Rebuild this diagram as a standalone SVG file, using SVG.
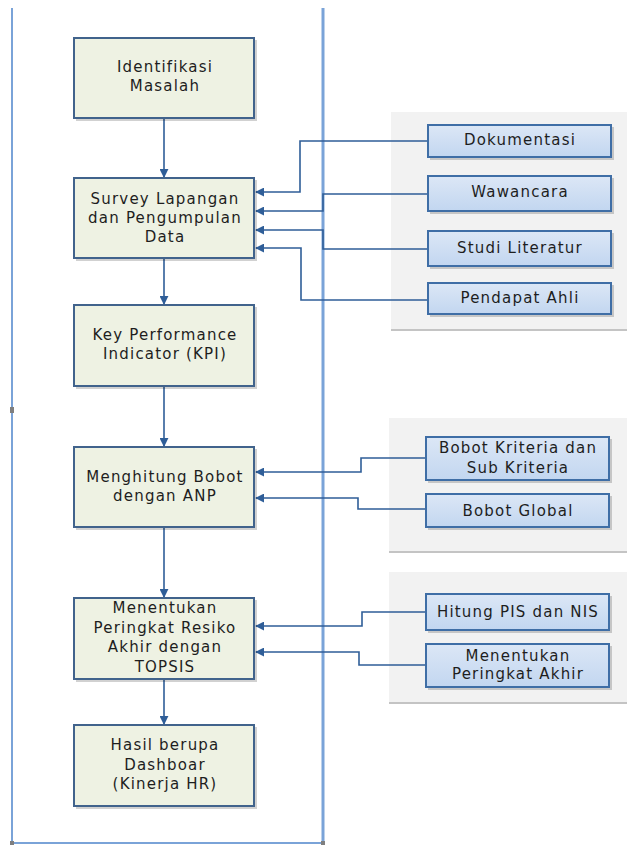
<svg xmlns="http://www.w3.org/2000/svg" width="627" height="846" viewBox="0 0 627 846">
<style>
.t{font-family:"DejaVu Sans","Liberation Sans",sans-serif;font-size:15px;fill:#1e1e1e;text-anchor:middle;letter-spacing:1.2px}
.lb{fill:#eef2e3;stroke:#41638c;stroke-width:2}
.rb{fill:url(#bg);stroke:#3f6ea6;stroke-width:2}
.sh{fill:#000;opacity:0.18}
.c{fill:none;stroke:#2f5e98;stroke-width:1.6}
.pn{fill:#f2f2f2}
.pl{stroke:#c4c4c4;stroke-width:2}
.fr{stroke:#7aa3d8;fill:none}
</style>
<defs>
<linearGradient id="bg" x1="0" y1="0" x2="0" y2="1">
<stop offset="0" stop-color="#dce7f6"/>
<stop offset="1" stop-color="#c2d6f0"/>
</linearGradient>
<marker id="ah" viewBox="0 0 10 10" refX="9" refY="5" markerWidth="9" markerHeight="9" markerUnits="userSpaceOnUse" orient="auto">
<path d="M0,0 L10,5 L0,10 z" fill="#2f5e98"/>
</marker>
</defs>
<rect width="627" height="846" fill="#ffffff"/>
<g id="panels">
<rect class="pn" x="391" y="112" width="236" height="218"/>
<line class="pl" x1="391" y1="330" x2="627" y2="330"/>
<rect class="pn" x="389" y="418" width="238" height="134"/>
<line class="pl" x1="389" y1="552" x2="627" y2="552"/>
<rect class="pn" x="389" y="572" width="238" height="131"/>
<line class="pl" x1="389" y1="703" x2="627" y2="703"/>
</g>
<g id="frame">
<line class="fr" x1="12" y1="8" x2="12" y2="843" stroke-width="2"/>
<line class="fr" x1="323" y1="8" x2="323" y2="843" stroke-width="3"/>
<line class="fr" x1="12" y1="843" x2="323" y2="843" stroke-width="2"/>
<rect x="10" y="407" width="4" height="6" fill="#7f7f7f"/>
<rect x="10" y="841" width="4" height="4" fill="#7f7f7f"/>
<rect x="321" y="841" width="4" height="4" fill="#7f7f7f"/>
</g>
<g id="connectors">
<line class="c" x1="164" y1="118" x2="164" y2="177" marker-end="url(#ah)"/>
<line class="c" x1="164" y1="258" x2="164" y2="304" marker-end="url(#ah)"/>
<line class="c" x1="164" y1="386" x2="164" y2="446" marker-end="url(#ah)"/>
<line class="c" x1="164" y1="527" x2="164" y2="597" marker-end="url(#ah)"/>
<line class="c" x1="164" y1="679" x2="164" y2="724" marker-end="url(#ah)"/>
<polyline class="c" points="428,141 300,141 300,192 256,192" marker-end="url(#ah)"/>
<polyline class="c" points="428,194 323,194 323,211 256,211" marker-end="url(#ah)"/>
<polyline class="c" points="428,249 323,249 323,230 256,230" marker-end="url(#ah)"/>
<polyline class="c" points="428,300 301,300 301,248 256,248" marker-end="url(#ah)"/>
<polyline class="c" points="426,458 361,458 361,472 256,472" marker-end="url(#ah)"/>
<polyline class="c" points="426,509 358,509 358,498 256,498" marker-end="url(#ah)"/>
<polyline class="c" points="426,612 362,612 362,626 256,626" marker-end="url(#ah)"/>
<polyline class="c" points="426,665 359,665 359,652 256,652" marker-end="url(#ah)"/>
</g>
<g id="n1">
<rect class="sh" x="76" y="40" width="181" height="81"/>
<rect class="lb" x="74" y="38" width="180" height="80"/>
<text class="t" x="165" y="72">Identifikasi</text>
<text class="t" x="165" y="91">Masalah</text>
</g>
<g id="n2">
<rect class="sh" x="76" y="180" width="181" height="81"/>
<rect class="lb" x="74" y="178" width="180" height="80"/>
<text class="t" x="165" y="204">Survey Lapangan</text>
<text class="t" x="165" y="223">dan Pengumpulan</text>
<text class="t" x="165" y="242">Data</text>
</g>
<g id="n3">
<rect class="sh" x="76" y="307" width="181" height="82"/>
<rect class="lb" x="74" y="305" width="180" height="81"/>
<text class="t" x="165" y="340">Key Performance</text>
<text class="t" x="165" y="359">Indicator (KPI)</text>
</g>
<g id="n4">
<rect class="sh" x="76" y="449" width="181" height="81"/>
<rect class="lb" x="74" y="447" width="180" height="80"/>
<text class="t" x="165" y="482">Menghitung Bobot</text>
<text class="t" x="165" y="501">dengan ANP</text>
</g>
<g id="n5">
<rect class="sh" x="76" y="600" width="181" height="82"/>
<rect class="lb" x="74" y="598" width="180" height="81"/>
<text class="t" x="165" y="613">Menentukan</text>
<text class="t" x="165" y="633">Peringkat Resiko</text>
<text class="t" x="165" y="652">Akhir dengan</text>
<text class="t" x="165" y="672">TOPSIS</text>
</g>
<g id="n6">
<rect class="sh" x="76" y="727" width="181" height="82"/>
<rect class="lb" x="74" y="725" width="180" height="81"/>
<text class="t" x="165" y="750">Hasil berupa</text>
<text class="t" x="165" y="770">Dashboar</text>
<text class="t" x="165" y="789">(Kinerja HR)</text>
</g>
<g id="r1">
<rect class="sh" x="430" y="127" width="184" height="33"/>
<rect class="rb" x="428" y="125" width="183" height="32"/>
<text class="t" x="520" y="145">Dokumentasi</text>
</g>
<g id="r2">
<rect class="sh" x="430" y="178" width="184" height="36"/>
<rect class="rb" x="428" y="176" width="183" height="35"/>
<text class="t" x="520" y="197">Wawancara</text>
</g>
<g id="r3">
<rect class="sh" x="430" y="233" width="184" height="36"/>
<rect class="rb" x="428" y="231" width="183" height="35"/>
<text class="t" x="520" y="253">Studi Literatur</text>
</g>
<g id="r4">
<rect class="sh" x="430" y="285" width="184" height="32"/>
<rect class="rb" x="428" y="283" width="183" height="31"/>
<text class="t" x="520" y="303">Pendapat Ahli</text>
</g>
<g id="r5">
<rect class="sh" x="428" y="439" width="184" height="44"/>
<rect class="rb" x="426" y="437" width="183" height="43"/>
<text class="t" x="518" y="453">Bobot Kriteria dan</text>
<text class="t" x="518" y="473">Sub Kriteria</text>
</g>
<g id="r6">
<rect class="sh" x="428" y="496" width="184" height="34"/>
<rect class="rb" x="426" y="494" width="183" height="33"/>
<text class="t" x="518" y="516">Bobot Global</text>
</g>
<g id="r7">
<rect class="sh" x="428" y="596" width="184" height="37"/>
<rect class="rb" x="426" y="594" width="183" height="36"/>
<text class="t" x="518" y="617">Hitung PIS dan NIS</text>
</g>
<g id="r8">
<rect class="sh" x="428" y="646" width="184" height="44"/>
<rect class="rb" x="426" y="644" width="183" height="43"/>
<text class="t" x="518" y="661">Menentukan</text>
<text class="t" x="518" y="679">Peringkat Akhir</text>
</g>
</svg>
